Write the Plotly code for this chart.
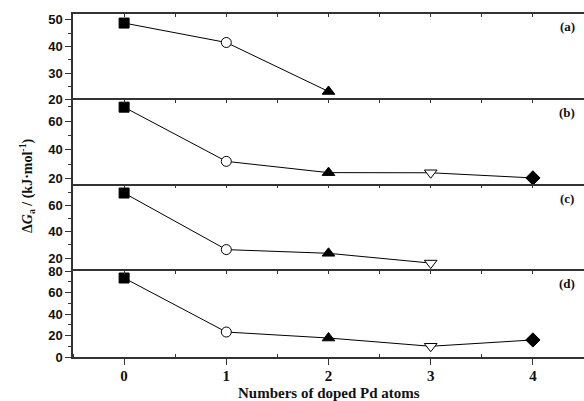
import plotly.graph_objects as go

# ---- data ----
x_a = [0, 1, 2]
y_a = [48.8, 41.5, 23.1]
x_b = [0, 1, 2, 3, 4]
y_b = [69.8, 31.9, 24.0, 23.9, 20.3]
x_c = [0, 1, 2, 3]
y_c = [69.3, 26.4, 23.6, 16.2]
x_d = [0, 1, 2, 3, 4]
y_d = [73.7, 23.3, 17.7, 10.0, 15.9]
x_ticks = [0, 1, 2, 3, 4]
panel_labels = ["(a)", "(b)", "(c)", "(d)"]

symbols = ["square", "circle", "triangle-up", "triangle-down", "diamond"]
fills = ["#000000", "white", "#000000", "white", "#000000"]
sizes = [10, 10, 11, 11, 11]

SERIF = "Liberation Serif, Times New Roman, serif"
SANS = "Liberation Sans, Arial, sans-serif"
INK = "#111111"

W, H = 584, 401
ml, mr, mt, mb = 73, 0, 14, 44
PH = H - mt - mb

fig = go.Figure()
series = [(x_a, y_a), (x_b, y_b), (x_c, y_c), (x_d, y_d)]
for i, (xs, ys) in enumerate(series):
    n = len(xs)
    fig.add_trace(go.Scatter(
        x=xs, y=ys, mode="lines+markers",
        xaxis="x" if i == 0 else f"x{i+1}",
        yaxis="y" if i == 0 else f"y{i+1}",
        line=dict(color="#000000", width=1),
        marker=dict(symbol=symbols[:n], color=fills[:n], size=sizes[:n],
                    opacity=1, line=dict(color="#000000", width=1)),
        cliponaxis=False, showlegend=False,
    ))

domains = [[0.75, 1.0], [0.5, 0.75], [0.25, 0.5], [0.0, 0.25]]
yranges = [[20, 52.2], [15, 75], [10, 75], [0, 80]]
ydticks = [10, 20, 20, 20]
yminor = [5, 10, 10, 10]

layout = dict(
    width=W, height=H,
    margin=dict(l=ml, r=mr, t=mt, b=mb),
    paper_bgcolor="white", plot_bgcolor="white",
    showlegend=False,
)

for i in range(4):
    xs = "xaxis" if i == 0 else f"xaxis{i+1}"
    ys = "yaxis" if i == 0 else f"yaxis{i+1}"
    yname = "y" if i == 0 else f"y{i+1}"
    xname = "x" if i == 0 else f"x{i+1}"
    layout[xs] = dict(
        domain=[0, 1], anchor=yname, side="top",
        range=[-0.5, 4.5], showgrid=False, zeroline=False,
        showline=True, linecolor="#333333", linewidth=1.5,
        ticks="inside", ticklen=3, tickcolor="#333333", tickwidth=1,
        dtick=0.5, tick0=0, showticklabels=False,
    )
    layout[ys] = dict(
        domain=domains[i], anchor=xname,
        range=yranges[i], showgrid=False, zeroline=False,
        showline=True, linecolor="#333333", linewidth=1.5,
        ticks="outside", ticklen=6, tickcolor="#333333", tickwidth=1,
        tick0=0, dtick=ydticks[i],
        minor=dict(ticks="outside", ticklen=3, dtick=yminor[i], tick0=0,
                   tickcolor="#333333", tickwidth=1),
        tickfont=dict(family=SANS, size=13, color=INK, weight="bold"),
    )

# bottom x axis with labels
layout["xaxis5"] = dict(
    domain=[0, 1], anchor="y4", overlaying="x4", side="bottom",
    range=[-0.5, 4.5], showgrid=False, zeroline=False,
    showline=True, linecolor="#333333", linewidth=1.5,
    ticks="outside", ticklen=6, tickcolor="#333333", tickwidth=1,
    tickvals=x_ticks, ticktext=[str(v) for v in x_ticks],
    ticklabelstandoff=-2,
    minor=dict(ticks="inside", ticklen=3, tickvals=[-0.5, 0.5, 1.5, 2.5, 3.5],
               tickcolor="#333333", tickwidth=1),
    tickfont=dict(family=SERIF, size=15, color=INK, weight="bold"),
)
fig.update_layout(**layout)
# invisible trace to activate xaxis5
fig.add_trace(go.Scatter(x=[0], y=[0], xaxis="x5", yaxis="y4",
                         mode="markers", marker=dict(opacity=0),
                         hoverinfo="skip", showlegend=False))

annotations = []
for i, lab in enumerate(panel_labels):
    annotations.append(dict(
        text=lab, xref="paper", yref="paper",
        x=0.967, y=domains[i][1] - 12.5 / PH,
        xanchor="center", yanchor="middle", showarrow=False,
        font=dict(family=SERIF, size=13, color=INK, weight="bold"),
    ))
annotations.append(dict(
    text="Numbers of doped Pd atoms", xref="paper", yref="paper",
    x=0.5, y=-(393 - 357) / PH, xanchor="center", yanchor="middle",
    showarrow=False,
    font=dict(family=SERIF, size=15, color=INK, weight="bold"),
))
annotations.append(dict(
    text="Δ<i>G</i><sub>a</sub> / (kJ·mol<sup>-1</sup>)",
    xref="paper", yref="paper",
    x=(27 - ml) / (W - ml - mr), y=1 - (186 - mt) / PH,
    xanchor="center", yanchor="middle", textangle=-90, showarrow=False,
    font=dict(family=SERIF, size=14, color=INK, weight="bold"),
))
fig.update_layout(annotations=annotations)

fig.write_html("out.html", config={"displayModeBar": False},
               post_script="document.body.style.margin='0';")
